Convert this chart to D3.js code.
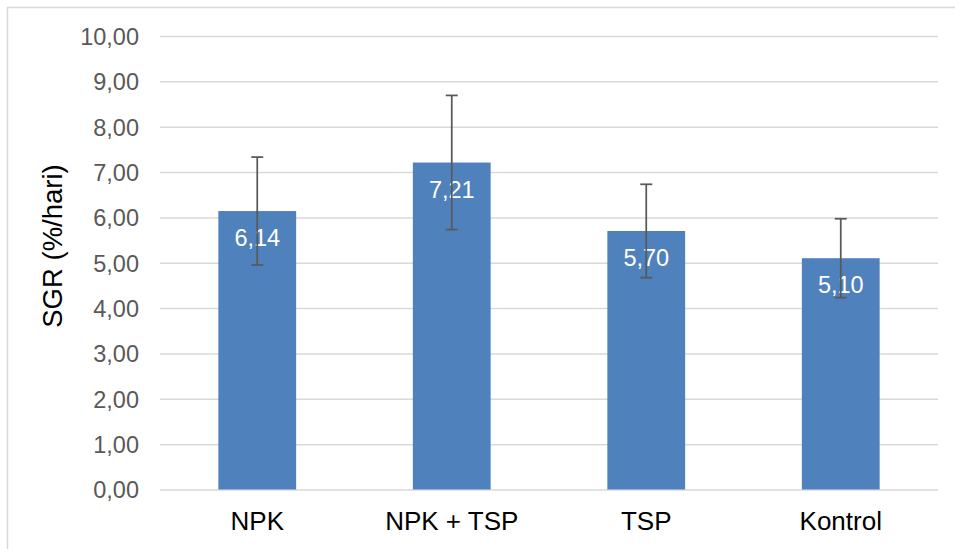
<!DOCTYPE html>
<html><head><meta charset="utf-8">
<script src="https://cdn.jsdelivr.net/npm/d3@7"></script>
<style>body{margin:0;background:#fff;}svg{display:block;font-family:"Liberation Sans",Arial,sans-serif;}</style>
</head><body>
<script>
const categories = ["NPK", "NPK + TSP", "TSP", "Kontrol"];
const values = [6.14, 7.21, 5.70, 5.10];
const errors = [1.19, 1.48, 1.03, 0.87];
const yTicks = [0,1,2,3,4,5,6,7,8,9,10];
const yTitle = "SGR (%/hari)";

const W = 955, H = 549;
const m = {left:160, right:17, top:36, bottom:59.5};
const svg = d3.select("body").append("svg").attr("width", W).attr("height", H);
svg.append("rect").attr("x",7.5).attr("y",7.5).attr("width",W+10).attr("height",H+10)
  .attr("fill","#fff").attr("stroke","#d9d9d9").attr("stroke-width",1.5);

const x = d3.scaleBand().domain(categories).range([m.left, W-m.right]).paddingInner(0.6).paddingOuter(0.3);
const y = d3.scaleLinear().domain([0,10]).range([H-m.bottom, m.top]);
const fmt = v => d3.format(".2f")(v).replace(".", ",");

const yAxis = svg.append("g").attr("transform",`translate(${m.left},0)`)
  .call(d3.axisLeft(y).tickValues(yTicks).tickSize(-(W-m.left-m.right)).tickPadding(21).tickFormat(fmt));
yAxis.select(".domain").remove();
yAxis.selectAll(".tick line").attr("stroke","#d9d9d9").attr("stroke-width",1.5);
yAxis.selectAll(".tick text").attr("fill","#595959").attr("font-size","23.5px").attr("dy","0.36em");

const xAxis = svg.append("g").attr("transform",`translate(0,${H-m.bottom})`)
  .call(d3.axisBottom(x).tickSize(0).tickPadding(0));
xAxis.select(".domain").remove();
xAxis.selectAll(".tick text").attr("fill","#000").attr("font-size","26px").attr("dy","0").attr("y",40.5);

svg.append("g").selectAll("rect").data(values).join("rect")
  .attr("x",(d,i)=>x(categories[i])).attr("width",x.bandwidth())
  .attr("y",d=>y(d)).attr("height",d=>y(0)-y(d)).attr("fill","#4f81bd");

svg.append("g").selectAll("text").data(values).join("text")
  .attr("x",(d,i)=>x(categories[i])+x.bandwidth()/2).attr("y",d=>y(d)+35)
  .attr("text-anchor","middle").attr("fill","#fff").attr("font-size","23.5px").text(fmt);

const eb = svg.append("g").attr("stroke","#595959").attr("stroke-width",1.75);
values.forEach((v,i)=>{
  const cx = x(categories[i])+x.bandwidth()/2;
  const hi = y(v+errors[i]), lo = y(v-errors[i]);
  eb.append("line").attr("x1",cx).attr("x2",cx).attr("y1",hi).attr("y2",lo);
  eb.append("line").attr("x1",cx-6).attr("x2",cx+6).attr("y1",hi).attr("y2",hi);
  eb.append("line").attr("x1",cx-6).attr("x2",cx+6).attr("y1",lo).attr("y2",lo);
});

svg.append("text").attr("transform",`translate(62,246) rotate(-90)`)
  .attr("text-anchor","middle").attr("fill","#000").attr("font-size","27.5px").text(yTitle);
</script>
</body></html>
